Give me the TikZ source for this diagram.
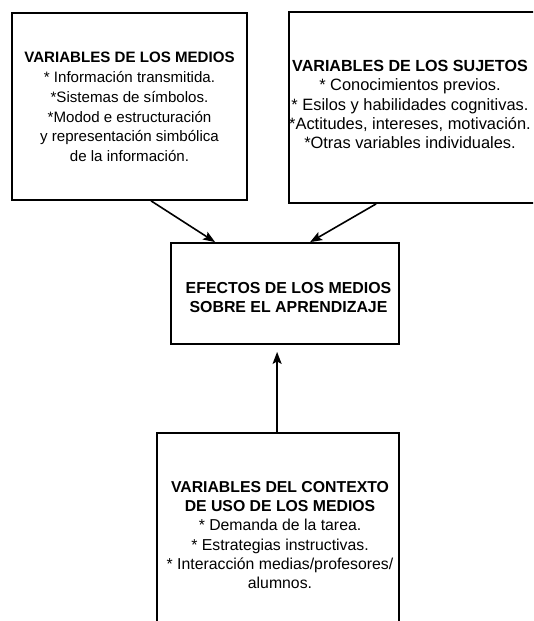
\documentclass[tikz,border=0pt]{standalone}
\usepackage{fontspec}
\setmainfont{Liberation Sans}
\usetikzlibrary{arrows.meta,calc}
\tikzset{
  box/.style={draw=black, line width=1.8pt, inner sep=0pt},
  txt/.style={align=center, inner sep=0pt},
  conn/.style={line width=1.6pt, -{Stealth[length=12pt,width=9pt,inset=2.5pt]}},
}
\begin{document}
\begin{tikzpicture}[x=1pt,y=-1pt]
\useasboundingbox (0,0) rectangle (533,621);
\clip (0,0) rectangle (533,621);
% boxes
\node[box, minimum width=235pt, minimum height=187pt] (med) at (129.5,106.5) {};
\node[box, minimum width=250pt, minimum height=191pt] (suj) at (414,107.5) {};
\node[box, minimum width=228pt, minimum height=101pt] (eff) at (285,293.5) {};
\node[box, minimum width=242pt, minimum height=204pt] (ctx) at (278,535) {};
% texts
\node[txt, font=\fontsize{15.1}{19.8}\selectfont] (medt) at ($(med.center)+(0,0.5)$)
  {\textbf{VARIABLES DE LOS MEDIOS}\\
   * Información transmitida.\\
   *Sistemas de símbolos.\\
   *Modod e estructuración\\
   y representación simbólica\\
   de la información.};
\node[txt, font=\fontsize{16.4}{19.4}\selectfont] (sujt) at ($(suj.center)+(-4,-3)$)
  {\textbf{\fontsize{16.1}{19.4}\selectfont VARIABLES DE LOS SUJETOS}\\
   * Conocimientos previos.\\
   * Esilos y habilidades cognitivas.\\
   *Actitudes, intereses, motivación.\\
   *Otras variables individuales.};
\node[txt, font=\bfseries\fontsize{15.9}{19.2}\selectfont] (efft) at ($(eff.center)+(3.5,4)$)
  {EFECTOS DE LOS MEDIOS\\SOBRE EL APRENDIZAJE};
\node[txt, font=\fontsize{15.8}{19.2}\selectfont] (ctxt) at ($(ctx.center)+(2,0)$)
  {\textbf{VARIABLES DEL CONTEXTO}\\
   \textbf{DE USO DE LOS MEDIOS}\\
   * Demanda de la tarea.\\
   * Estrategias instructivas.\\
   * Interacción medias/profesores/\\
   alumnos.};
% connectors
\draw[conn] ($(med.south west)+(140,0)$) -- ($(eff.north west)+(45,0)$);
\draw[conn] ($(suj.south west)+(88,0)$) -- ($(eff.north west)+(140,0)$);
\draw[conn] ($(ctx.north west)+(121,0)$) -- ($(eff.south west)+(107,7)$);
\end{tikzpicture}
\end{document}
